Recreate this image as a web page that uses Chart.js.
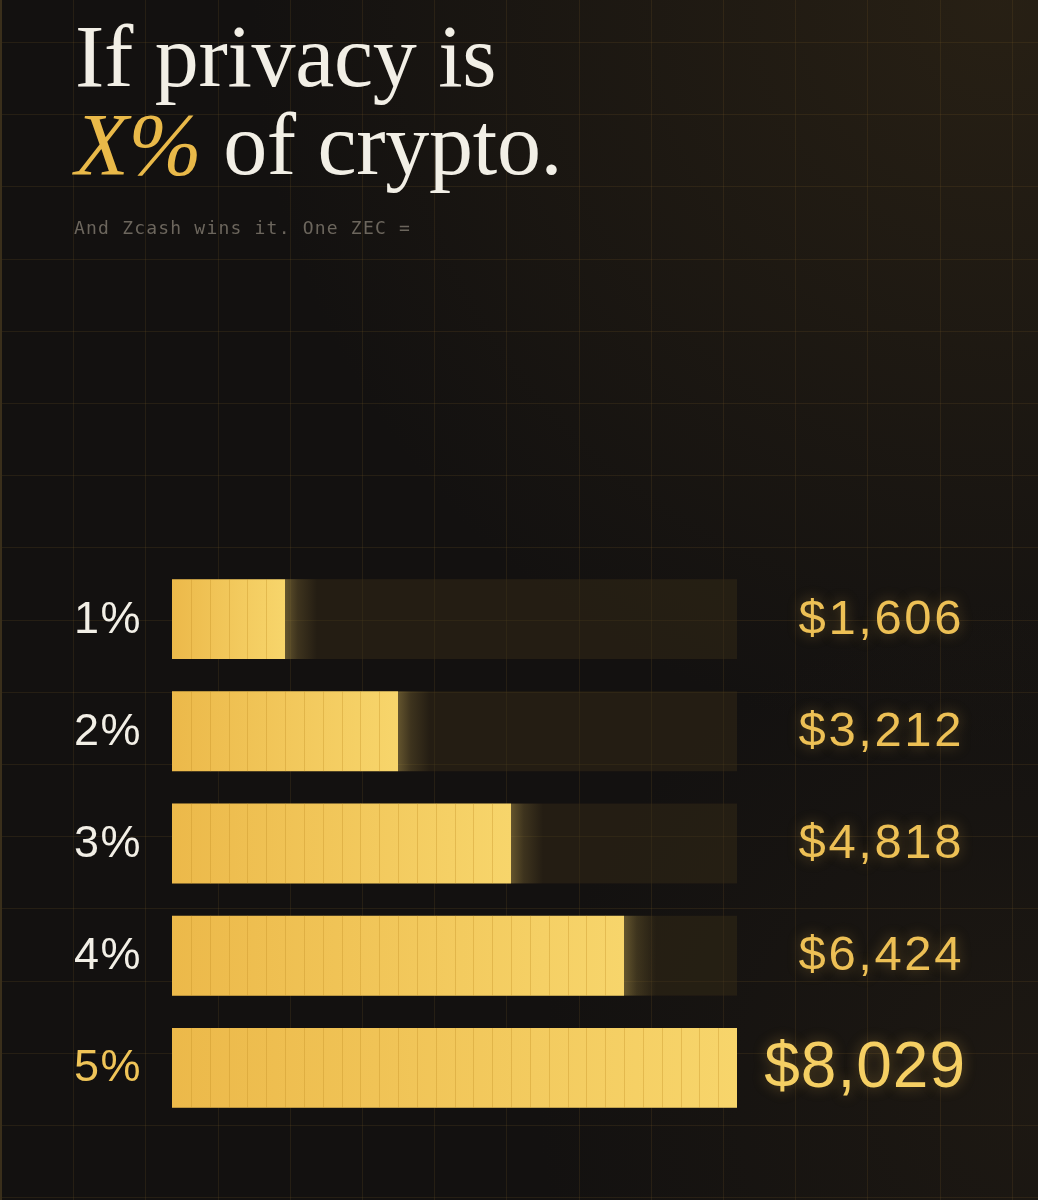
<!DOCTYPE html>
<html>
<head>
<meta charset="utf-8">
<script src="https://cdn.jsdelivr.net/npm/chart.js@4.4.1/dist/chart.umd.min.js"></script>
<style>
  html, body { margin: 0; padding: 0; }
  body { width: 1038px; height: 1200px; background: #131110; position: relative; overflow: hidden; }
  #chart { position: absolute; left: 0; top: 0; z-index: 0; }
  .title { position: absolute; left: 75px; top: 13px; z-index: 1; font-family: 'Liberation Serif', serif; font-size: 88px; line-height: 88px; color: #f2efe6; letter-spacing: -0.3px; white-space: nowrap; }
  .title em { color: #e9b949; font-style: italic; }
  .sub { position: absolute; left: 74px; top: 218px; z-index: 1; font-family: 'DejaVu Sans Mono', monospace; font-size: 18px; line-height: 20px; color: #6c665d; letter-spacing: 1.2px; white-space: nowrap; }
</style>
</head>
<body>
<canvas id="chart" width="1038" height="1200"></canvas>
<div class="title">If privacy is<br><em>X%</em> of crypto.</div>
<div class="sub">And Zcash wins it. One ZEC =</div>
<script>
// parts de marché et prix correspondants
const shares = ['1%', '2%', '3%', '4%', '5%'];
const shareValues = [1, 2, 3, 4, 5];
const prices = ['$1,606', '$3,212', '$4,818', '$6,424', '$8,029'];

const GOLD_L = '#ecb94a';
const GOLD_R = '#f7d56b';

// fond : dégradé + grille
const backdrop = {
    id: 'backdrop',
    beforeDraw(chart) {
        const ctx = chart.ctx;
        const w = chart.width, h = chart.height;
        ctx.save();
        ctx.fillStyle = '#131110';
        ctx.fillRect(0, 0, w, h);
        let g = ctx.createRadialGradient(1000, 0, 0, 1000, 0, 750);
        g.addColorStop(0, 'rgba(48,38,22,0.7)');
        g.addColorStop(1, 'rgba(48,38,22,0)');
        ctx.fillStyle = g;
        ctx.fillRect(0, 0, w, h);
        g = ctx.createRadialGradient(1038, 1100, 0, 1038, 1100, 500);
        g.addColorStop(0, 'rgba(44,35,22,0.4)');
        g.addColorStop(1, 'rgba(44,35,22,0)');
        ctx.fillStyle = g;
        ctx.fillRect(0, 0, w, h);
        ctx.strokeStyle = 'rgba(110,82,38,0.22)';
        ctx.lineWidth = 1;
        ctx.beginPath();
        for (let x = 1; x < w; x += 72.2) {
            const px = Math.round(x) + 0.5;
            ctx.moveTo(px, 0); ctx.lineTo(px, h);
        }
        for (let y = 42; y < h; y += 72.2) {
            const py = Math.round(y) + 0.5;
            ctx.moveTo(0, py); ctx.lineTo(w, py);
        }
        ctx.stroke();
        ctx.fillStyle = '#3a2f1b';
        ctx.fillRect(0, 0, 2, h);
        ctx.restore();
    },
    beforeDatasetsDraw(chart) {
        // pistes sombres derrière les barres
        const ctx = chart.ctx;
        const area = chart.chartArea;
        const meta = chart.getDatasetMeta(0);
        ctx.save();
        ctx.fillStyle = 'rgba(60,47,24,0.42)';
        meta.data.forEach(bar => {
            ctx.fillRect(area.left, bar.y - bar.height / 2, area.right - area.left, bar.height);
        });
        ctx.restore();
    },
    afterDatasetsDraw(chart) {
        const ctx = chart.ctx;
        const xs = chart.scales.x;
        const meta = chart.getDatasetMeta(0);
        ctx.save();
        meta.data.forEach((bar, i) => {
            const top = bar.y - bar.height / 2;
            // fines rayures verticales
            ctx.strokeStyle = 'rgba(196,142,38,0.35)';
            ctx.lineWidth = 1;
            ctx.beginPath();
            for (let k = 1; k / 6 < shareValues[i] - 0.01; k++) {
                const px = Math.round(xs.getPixelForValue(k / 6)) + 0.5;
                ctx.moveTo(px, top); ctx.lineTo(px, top + bar.height);
            }
            ctx.stroke();
            // lueur au bout de la barre
            if (bar.x < chart.chartArea.right - 2) {
                const g = ctx.createLinearGradient(bar.x, 0, bar.x + 32, 0);
                g.addColorStop(0, 'rgba(247,213,107,0.3)');
                g.addColorStop(0.4, 'rgba(247,213,107,0.12)');
                g.addColorStop(1, 'rgba(247,213,107,0)');
                ctx.fillStyle = g;
                ctx.fillRect(bar.x, top, 32, bar.height);
            }
        });
        ctx.restore();
    },
    afterDraw(chart) {
        const ctx = chart.ctx;
        const meta = chart.getDatasetMeta(0);
        ctx.save();
        ctx.textBaseline = 'middle';
        meta.data.forEach((bar, i) => {
            const last = i === shares.length - 1;
            // étiquette de gauche
            ctx.textAlign = 'left';
            ctx.font = '45px "Liberation Sans", Arial, sans-serif';
            ctx.letterSpacing = '1.5px';
            ctx.fillStyle = last ? '#efc458' : '#f2efe6';
            ctx.fillText(shares[i], 74, bar.y + 1);
            // prix à droite
            ctx.textAlign = 'right';
            ctx.shadowColor = 'rgba(240,190,80,0.35)';
            ctx.shadowBlur = 14;
            if (last) {
                ctx.font = '64px "Liberation Sans", Arial, sans-serif';
                ctx.letterSpacing = '1px';
                ctx.fillStyle = '#f5cf63';
                ctx.fillText(prices[i], 966, bar.y + 1);
            } else {
                ctx.font = '49px "Liberation Sans", Arial, sans-serif';
                ctx.letterSpacing = '2.6px';
                ctx.fillStyle = '#edc055';
                ctx.fillText(prices[i], 964, bar.y + 1);
            }
            ctx.shadowBlur = 0;
            ctx.shadowColor = 'transparent';
        });
        ctx.restore();
    }
};

new Chart(document.getElementById('chart'), {
    type: 'bar',
    data: {
        labels: shares,
        datasets: [{
            data: shareValues,
            backgroundColor: function(context) {
                const chart = context.chart;
                const xs = chart.scales.x;
                if (!chart.chartArea || !xs || context.raw === undefined) return GOLD_L;
                const x0 = xs.getPixelForValue(0);
                const x1 = xs.getPixelForValue(context.raw);
                const g = chart.ctx.createLinearGradient(x0, 0, x1, 0);
                g.addColorStop(0, GOLD_L);
                g.addColorStop(1, GOLD_R);
                return g;
            },
            borderWidth: 0,
            borderSkipped: false,
            barPercentage: 0.712,
            categoryPercentage: 1.0
        }]
    },
    plugins: [backdrop],
    options: {
        indexAxis: 'y',
        responsive: false,
        animation: false,
        events: [],
        layout: {
            padding: { left: 172, right: 301, top: 563, bottom: 76 }
        },
        scales: {
            x: { display: false, min: 0, max: 5 },
            y: { display: false }
        },
        plugins: {
            legend: { display: false },
            tooltip: { enabled: false }
        }
    }
});
</script>
</body>
</html>
